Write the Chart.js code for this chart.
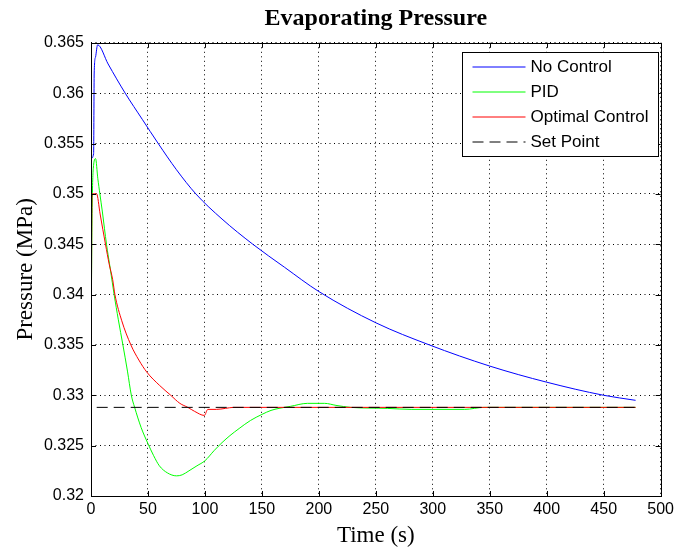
<!DOCTYPE html>
<html>
<head>
<meta charset="utf-8">
<script src="https://cdn.jsdelivr.net/npm/chart.js@4.4.1/dist/chart.umd.min.js"></script>
<style>
  html, body { margin: 0; padding: 0; background: #fff; }
</style>
</head>
<body>
<canvas id="evapChart" width="678" height="550"></canvas>
<script>
// values
const seriesLabels = ["No Control", "PID", "Optimal Control", "Set Point"];
const seriesColors = ["#0000ff", "#00ff00", "#ff0000", "#000000"];

const xTicks = [0, 50, 100, 150, 200, 250, 300, 350, 400, 450, 500];
const yTicks = [0.32, 0.325, 0.33, 0.335, 0.34, 0.345, 0.35, 0.355, 0.36, 0.365];
const yTickLabels = ["0.32", "0.325", "0.33", "0.335", "0.34", "0.345", "0.35", "0.355", "0.36", "0.365"];

const noControlTime = [0, 2.3, 2.8, 4, 5.8, 15, 30, 45, 59, 75, 92, 115, 142, 170, 200, 250, 297, 350, 400, 450, 478];
const noControlPressure = [0.3535, 0.3540, 0.3620, 0.3636, 0.3648, 0.3629, 0.3600, 0.3574, 0.3550, 0.3524, 0.3500,
  0.3475, 0.3450, 0.3427, 0.3403, 0.3372, 0.3350, 0.3329, 0.3313, 0.3300, 0.3295];

const pidTime = [0, 0.9, 2, 4, 6, 7.8, 10, 13.6, 17, 20.3, 24, 28, 32, 35.4, 38.3, 44, 50, 55, 60, 67, 75, 80, 86,
  93, 100, 108, 115, 122, 130, 140, 150, 158, 165, 175, 190, 205, 215, 228, 260, 281, 328, 345, 478];
const pidPressure = [0.3335, 0.3474, 0.3525, 0.3535, 0.3515, 0.3500, 0.3482, 0.3450, 0.3425, 0.3400, 0.3375,
  0.3350, 0.3324, 0.3300, 0.3288, 0.3268, 0.3252, 0.3240, 0.3230, 0.3223, 0.3220, 0.3221, 0.3225, 0.3230,
  0.3235, 0.3245, 0.3253, 0.3260, 0.3267, 0.3275, 0.3281, 0.3285, 0.3287, 0.3289, 0.3292, 0.3292, 0.3290,
  0.3288, 0.3287, 0.3286, 0.3286, 0.3288, 0.3288];

const optimalTime = [0, 0.8, 1.1, 4.9, 8, 12.7, 16, 19, 21, 27, 35, 42, 49, 60, 70, 78, 85, 91, 99.5, 102.5,
  110, 118, 125, 478];
const optimalPressure = [0.3238, 0.3495, 0.3500, 0.3500, 0.3480, 0.3450, 0.3430, 0.3415, 0.3400, 0.3374,
  0.3350, 0.3335, 0.3323, 0.3310, 0.3300, 0.3292, 0.3288, 0.3284, 0.3280, 0.3286, 0.3286, 0.3287, 0.3288, 0.3288];

const setPointTime = [5, 478];
const setPointPressure = [0.3288, 0.3288];

const zip = (xs, ys) => xs.map((x, i) => ({ x: x, y: ys[i] }));

const tickFont = { family: "'Liberation Sans', Arial, sans-serif", size: 16 };
const serifFont = "'Liberation Serif', 'Times New Roman', serif";

// matlab style box, inner ticks and legend
const matlabAxes = {
  id: "matlabAxes",
  afterDraw(chart) {
    const { ctx, chartArea: a, scales } = chart;
    ctx.save();
    ctx.strokeStyle = "#000";
    ctx.lineWidth = 1;
    ctx.setLineDash([]);
    ctx.beginPath();
    xTicks.forEach(v => {
      const px = Math.round(scales.x.getPixelForValue(v)) + 0.5;
      ctx.moveTo(px, a.bottom); ctx.lineTo(px, a.bottom - 5);
      ctx.moveTo(px, a.top); ctx.lineTo(px, a.top + 5);
    });
    yTicks.forEach(v => {
      const py = Math.round(scales.y.getPixelForValue(v)) + 0.5;
      ctx.moveTo(a.left, py); ctx.lineTo(a.left + 5, py);
      ctx.moveTo(a.right, py); ctx.lineTo(a.right - 5, py);
    });
    ctx.stroke();
    ctx.strokeRect(Math.round(a.left) + 0.5, Math.round(a.top) + 0.5,
      Math.round(a.right - a.left), Math.round(a.bottom - a.top));

    // legend
    const lx = 462.5, ly = 52.5, lw = 196, lh = 104;
    ctx.fillStyle = "#fff";
    ctx.fillRect(lx, ly, lw, lh);
    ctx.strokeRect(lx, ly, lw, lh);
    ctx.font = "17px 'Liberation Sans', Arial, sans-serif";
    ctx.textBaseline = "middle";
    ctx.textAlign = "left";
    chart.data.datasets.forEach((ds, i) => {
      const y = ly + 14.5 + i * 25;
      ctx.strokeStyle = ds.borderColor;
      ctx.setLineDash(ds.borderDash || []);
      ctx.beginPath();
      ctx.moveTo(lx + 10, y); ctx.lineTo(lx + 63, y);
      ctx.stroke();
      ctx.fillStyle = "#000";
      ctx.fillText(ds.label, lx + 68, y);
    });
    ctx.restore();
  }
};

const ctx = document.getElementById("evapChart").getContext("2d");

new Chart(ctx, {
  type: "line",
  data: {
    datasets: [
      { label: seriesLabels[0], data: zip(noControlTime, noControlPressure), borderColor: seriesColors[0], order: 4 },
      { label: seriesLabels[1], data: zip(pidTime, pidPressure), borderColor: seriesColors[1], order: 3 },
      { label: seriesLabels[2], data: zip(optimalTime, optimalPressure), borderColor: seriesColors[2], order: 2 },
      { label: seriesLabels[3], data: zip(setPointTime, setPointPressure), borderColor: seriesColors[3],
        borderDash: [11, 6], order: 1 }
    ]
  },
  options: {
    responsive: false,
    animation: false,
    layout: { padding: { left: 0, right: 13, top: 0, bottom: 0 } },
    elements: {
      line: { borderWidth: 1, cubicInterpolationMode: "monotone", fill: false },
      point: { radius: 0, hoverRadius: 0 }
    },
    scales: {
      x: {
        type: "linear",
        min: 0,
        max: 500,
        afterBuildTicks: s => { s.ticks = xTicks.map(v => ({ value: v })); },
        afterFit: s => { s.height = 54; },
        grid: { color: "#000", drawTicks: false, lineWidth: 1 },
        border: { display: false, dash: [1, 3.5] },
        ticks: { color: "#000", font: tickFont, padding: 4, maxRotation: 0, callback: v => String(v) },
        title: { display: true, text: "Time (s)", color: "#000", font: { family: serifFont, size: 23 },
          padding: { top: 0, bottom: 0 } }
      },
      y: {
        type: "linear",
        min: 0.32,
        max: 0.365,
        afterBuildTicks: s => { s.ticks = yTicks.map(v => ({ value: v })); },
        afterFit: s => { s.width = 91; },
        grid: { color: "#000", drawTicks: false, lineWidth: 1 },
        border: { display: false, dash: [1, 3.5] },
        ticks: { color: "#000", font: tickFont, padding: 7, callback: (v, i) => yTickLabels[i] },
        title: { display: true, text: "Pressure (MPa)", color: "#000", font: { family: serifFont, size: 23 },
          padding: { top: 12, bottom: 0 } }
      }
    },
    plugins: {
      legend: { display: false },
      tooltip: { enabled: false },
      title: {
        display: true,
        text: "Evaporating Pressure",
        color: "#000",
        fullSize: false,
        font: { family: serifFont, size: 24, weight: "bold" },
        padding: { top: 4, bottom: 10 }
      }
    }
  },
  plugins: [matlabAxes]
});
</script>
</body>
</html>
